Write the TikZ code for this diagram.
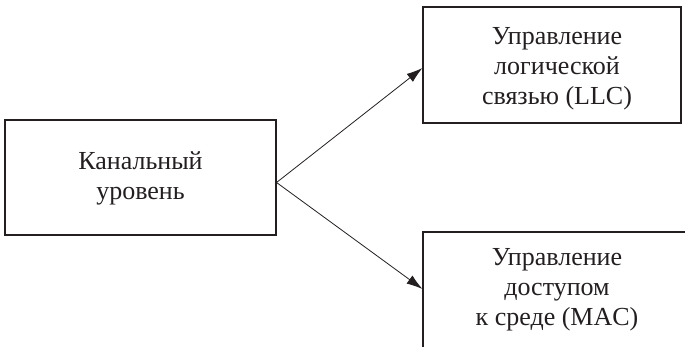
\documentclass[tikz,border=0pt]{standalone}
\usepackage{fontspec}
\setmainfont{Liberation Serif}
\usetikzlibrary{arrows.meta}
\definecolor{ink}{HTML}{231F20}
\tikzset{
  box/.style={draw=ink, line width=1.1pt, rectangle, inner sep=0pt},
  label/.style={text=ink, align=center, inner sep=0pt, font=\fontsize{26}{30}\selectfont},
  conn/.style={draw=ink, line width=0.8pt, -{Latex[length=16pt,width=10pt]}}
}
\begin{document}
\begin{tikzpicture}[x=1pt,y=-1pt]
\useasboundingbox (0,0) rectangle (685,347);
\clip (0,0) rectangle (685,347);
\node[box, minimum width=271pt, minimum height=115pt] (left) at (140.5,177.5) {};
\node[box, minimum width=258pt, minimum height=116pt] (top) at (552,65) {};
\node[box, minimum width=268pt, minimum height=118pt] (bot) at (557,291) {};
\node[label] (lefttext) at (140.5,178.5) {Канальный\\уровень};
\node[label] (toptext) at (557,68.5) {Управление\\логической\\связью (LLC)};
\node[label] (bottext) at (557,290) {Управление\\доступом\\к среде (MAC)};
\coordinate (src) at ([yshift=-5pt]left.east);
\draw[conn] (src) -- ([yshift=-3pt]top.west);
\draw[conn] (src) -- ([yshift=2pt]bot.west);
\end{tikzpicture}
\end{document}
